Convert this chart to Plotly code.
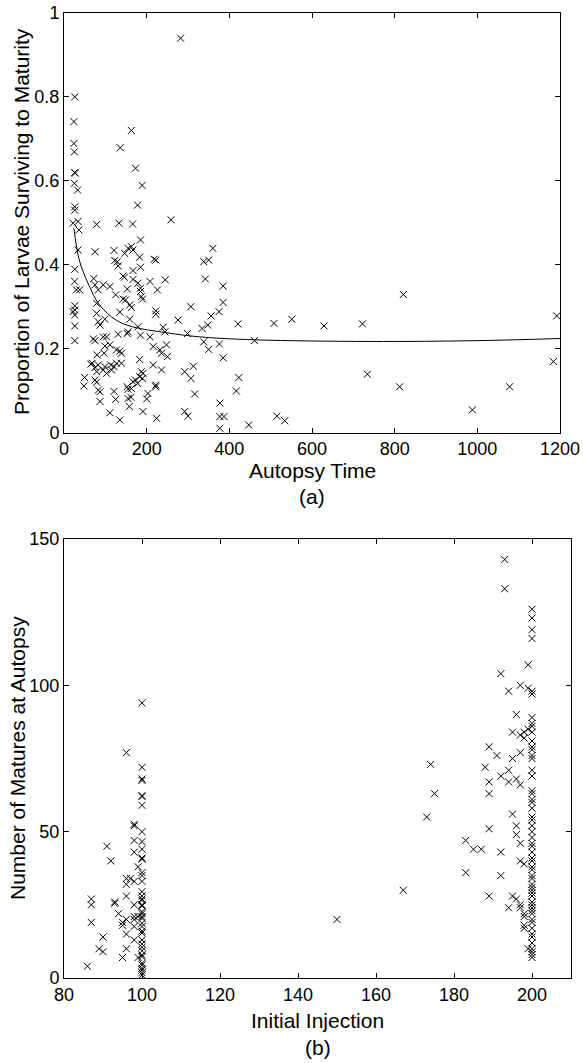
import plotly.graph_objects as go

# ---------------- Panel (a): autopsy time vs proportion surviving ----------------
autopsy_time = [
    26, 24, 24, 25, 26, 27, 25, 33, 26, 26, 34, 22, 36, 34, 26, 26, 30, 38, 26, 26, 22, 26, 26, 26,
    136, 163, 173, 189, 178, 259, 282,
    79, 133, 166, 185, 75, 121, 123, 147, 155, 163, 167, 129, 131, 183, 185, 218, 222,
    72, 75, 143, 146, 167, 167, 179, 208, 245, 83, 95, 111, 153, 185, 185, 187, 226, 125,
    143, 149, 159, 163, 190, 79, 79, 83, 87, 99, 135, 159, 222, 222, 276, 307,
    155, 153, 179, 185, 208, 240, 244, 299, 131, 71, 75, 95, 103, 111, 99, 97, 80,
    127, 135, 139, 216, 232, 236, 250, 248, 183, 65, 68, 75, 79, 83, 95, 99, 103, 115,
    121, 127, 139, 113, 216, 236, 187, 191, 183, 190, 173, 167, 178, 50, 48, 75, 79, 83, 87,
    153, 155, 163, 222, 222, 292, 307, 316, 121, 125, 155, 162, 158, 200, 203, 87, 111, 135,
    191, 224, 292, 300, 313,
    360, 338, 350, 342, 385, 385, 356, 375, 334, 348, 421, 508, 551, 629, 722,
    338, 350, 376, 461, 385, 423, 734, 417, 377, 377, 387, 377, 447, 515, 534,
    821, 1192, 1184, 812, 1078, 988,
]
proportion = [
    0.800, 0.741, 0.689, 0.669, 0.620, 0.618, 0.594, 0.578, 0.538, 0.530, 0.503, 0.499, 0.483, 0.435,
    0.389, 0.360, 0.340, 0.340, 0.302, 0.292, 0.288, 0.280, 0.254, 0.219,
    0.679, 0.720, 0.630, 0.589, 0.542, 0.507, 0.940,
    0.496, 0.499, 0.497, 0.459, 0.431, 0.434, 0.410, 0.427, 0.439, 0.443, 0.435, 0.407, 0.397, 0.418,
    0.394, 0.413, 0.411,
    0.367, 0.352, 0.373, 0.370, 0.386, 0.365, 0.356, 0.360, 0.364, 0.340, 0.352, 0.348, 0.342, 0.344,
    0.336, 0.324, 0.340, 0.328,
    0.318, 0.316, 0.304, 0.298, 0.318, 0.308, 0.284, 0.264, 0.256, 0.270, 0.287, 0.270, 0.290, 0.282,
    0.268, 0.300,
    0.240, 0.236, 0.252, 0.232, 0.228, 0.251, 0.240, 0.236, 0.234, 0.223, 0.219, 0.228, 0.228, 0.209,
    0.206, 0.189, 0.185,
    0.197, 0.194, 0.189, 0.205, 0.197, 0.189, 0.181, 0.209, 0.174, 0.163, 0.165, 0.155, 0.145, 0.161,
    0.149, 0.157, 0.141, 0.149,
    0.157, 0.165, 0.165, 0.161, 0.161, 0.149, 0.145, 0.141, 0.133, 0.129, 0.125, 0.121, 0.117, 0.131,
    0.111, 0.125, 0.120, 0.101, 0.097,
    0.109, 0.103, 0.105, 0.113, 0.109, 0.145, 0.129, 0.092, 0.098, 0.079, 0.081, 0.084, 0.062, 0.080,
    0.093, 0.074, 0.047, 0.030,
    0.050, 0.034, 0.050, 0.039, 0.158,
    0.439, 0.407, 0.411, 0.366, 0.349, 0.310, 0.278, 0.288, 0.248, 0.256, 0.259, 0.260, 0.270, 0.254,
    0.259,
    0.216, 0.198, 0.211, 0.219, 0.178, 0.131, 0.139, 0.099, 0.070, 0.038, 0.038, 0.010, 0.018, 0.039,
    0.028,
    0.329, 0.278, 0.169, 0.109, 0.109, 0.054,
]

# fitted curve
fit_time = [24, 37, 58, 86, 126, 166, 247, 328, 461, 740, 1000, 1200]
fit_prop = [0.487, 0.411, 0.356, 0.304, 0.268, 0.252, 0.238, 0.228, 0.221, 0.217, 0.219, 0.224]

# ---------------- Panel (b): initial injection vs number of matures ----------------
# cluster below 100
low_inj = [86, 87, 87, 87, 89, 90, 90, 91, 92, 93, 93, 94, 95, 95, 95, 96, 96, 96, 96, 96, 96, 96,
           97, 98, 98, 98, 98, 98, 98, 98, 98, 98, 98, 99, 99, 99]
low_mat = [4, 27, 25, 19, 10, 14, 9, 45, 40, 26, 25.5, 22, 18, 19, 7, 20, 34, 32, 28, 15, 10, 77,
           34, 33, 52, 52.5, 47, 43, 25, 21, 20, 17.6, 13, 38, 21, 7]
# column at 100
col100_mat = [94, 72, 68, 67.5, 62.3, 62, 59, 50, 46.6, 44, 41, 40.6, 36, 35, 33, 29.5, 28, 27, 26.5,
              25, 24.6, 22.7, 22, 21, 20.4, 18.7, 17.6, 16, 15.4, 13, 11.6, 10.5, 9.3, 7.9, 7.3, 5,
              4.4, 3.3, 2.7, 1.8, 1]
# scattered points between 150 and 199
mid_inj = [150, 167, 173, 174, 175, 183, 183, 185, 187, 188, 189, 189, 189, 189, 189, 191,
           192, 192, 192, 192, 193, 193, 194, 194, 194, 194, 195, 195, 195, 195,
           196, 196, 196, 196, 196, 197, 197, 197, 197, 197, 197, 197, 197,
           198, 198, 198, 198, 198, 198, 198, 199, 199, 199, 199]
mid_mat = [20, 30, 55, 73, 63, 47, 36, 44, 44, 72, 79, 67, 63, 51, 28, 76,
           104, 69, 43, 35, 143, 133, 98, 71, 67, 24, 84, 75, 56, 28,
           90, 68, 52, 49, 27, 100, 83, 77, 66, 46, 40, 25, 24,
           84, 82, 39, 22, 21, 18, 17, 107, 99, 85, 10]
# column at 200
col200_mat = [126, 123, 119, 116, 98, 97, 89, 87, 86, 84, 81, 79, 78, 76, 75, 71, 69, 64, 63, 61,
              60, 58, 55, 54, 52, 50, 48, 46, 45, 43, 41, 40, 38, 37, 35, 34, 32, 31, 30, 29,
              28, 26, 25, 24, 23, 22, 20, 19, 17, 15, 14, 12, 10, 9, 8, 7]

injection = low_inj + [100] * len(col100_mat) + mid_inj + [200] * len(col200_mat)
matures = low_mat + col100_mat + mid_mat + col200_mat

W, H = 583, 1063
FONT = "Liberation Sans, Arial, Helvetica, sans-serif"
marker = dict(symbol="x-thin-open", size=7, color="black", line=dict(color="black", width=1))

fig = go.Figure()
fig.add_trace(go.Scatter(x=autopsy_time, y=proportion, mode="markers", marker=marker,
                         xaxis="x", yaxis="y", showlegend=False))
fig.add_trace(go.Scatter(x=fit_time, y=fit_prop, mode="lines",
                         line=dict(color="black", width=1, shape="spline"),
                         xaxis="x", yaxis="y", showlegend=False))
fig.add_trace(go.Scatter(x=injection, y=matures, mode="markers", marker=marker,
                         xaxis="x2", yaxis="y2", showlegend=False))

axis_common = dict(showline=True, linecolor="black", linewidth=1, mirror="ticks", ticks="inside",
                   ticklen=5, tickcolor="black", showgrid=False, zeroline=False, automargin=False,
                   tickfont=dict(family=FONT, size=18, color="black"))

fig.update_layout(
    width=W, height=H, autosize=False,
    margin=dict(l=0, r=0, t=0, b=0, pad=0),
    paper_bgcolor="white", plot_bgcolor="white",
    xaxis=dict(domain=[64 / W, 560 / W], range=[0, 1200], tickvals=[0, 200, 400, 600, 800, 1000, 1200],
               anchor="y", **axis_common),
    yaxis=dict(domain=[1 - 432.5 / H, 1 - 13 / H], range=[0, 1], tickvals=[0, 0.2, 0.4, 0.6, 0.8, 1],
               ticktext=["0", "0.2", "0.4", "0.6", "0.8", "1"], anchor="x", **axis_common),
    xaxis2=dict(domain=[64 / W, 571 / W], range=[80, 210], tickvals=[80, 100, 120, 140, 160, 180, 200],
                anchor="y2", **axis_common),
    yaxis2=dict(domain=[1 - 978 / H, 1 - 539 / H], range=[0, 150], tickvals=[0, 50, 100, 150],
                anchor="x2", **axis_common),
)

tfont = dict(family=FONT, size=21, color="black")
ann = [
    dict(text="Autopsy Time", x=312 / W, y=1 - 471 / H),
    dict(text="(a)", x=312 / W, y=1 - 496 / H),
    dict(text="Initial Injection", x=317.5 / W, y=1 - 1020 / H),
    dict(text="(b)", x=317.5 / W, y=1 - 1047 / H),
    dict(text="Proportion of Larvae Surviving to Maturity", x=21 / W, y=1 - 222 / H, textangle=-90),
    dict(text="Number of Matures at Autopsy", x=17 / W, y=1 - 758 / H, textangle=-90),
]
for a in ann:
    fig.add_annotation(xref="paper", yref="paper", xanchor="center", yanchor="middle",
                       showarrow=False, font=tfont, **a)

fig.write_html("out.html", config={"displayModeBar": False},
               post_script="document.body.style.margin='0';document.body.style.overflow='hidden';")
